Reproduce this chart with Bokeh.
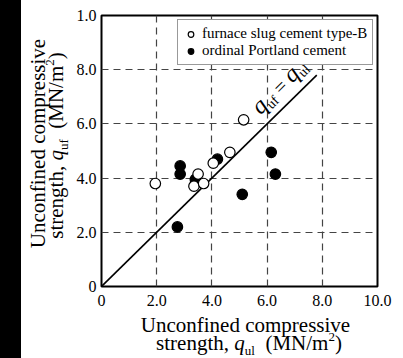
import math
from bokeh.plotting import figure
from bokeh.models import (Range1d, FixedTicker, Label, Legend, LegendItem, Div)
from bokeh.layouts import row, column
from bokeh.embed import file_html
from bokeh.resources import INLINE

# ---------------- data ----------------
slag_x = [1.95, 3.35, 3.5, 3.7, 4.05, 4.65, 5.15]
slag_y = [3.8, 3.7, 4.15, 3.8, 4.55, 4.95, 6.15]
opc_x = [2.85, 2.85, 2.75, 3.4, 4.2, 6.15, 6.3, 5.1]
opc_y = [4.45, 4.15, 2.2, 3.95, 4.7, 4.95, 4.15, 3.4]
line_x = [0.0, 7.8]
line_y = [0.0, 7.8]

x_ticks = [0, 2, 4, 6, 8, 10]
x_tick_labels = ["0", "2.0", "4.0", "6.0", "8.0", "10.0"]
y_ticks = [0, 2, 4, 6, 8, 10]
y_tick_labels = ["0", "2.0", "4.0", "6.0", "8.0", "1.0"]

slag_name = "furnace slug cement type-B"
opc_name = "ordinal Portland cement"
title_line1 = "Unconfined compressive"

FONT = "Liberation Serif"

# Times-metric character widths (per 1000 em)
WR = {' ': 250, '(': 333, ')': 333, ',': 250, '/': 278, '=': 564, '2': 500,
      'M': 889, 'N': 722, 'e': 444, 'f': 333, 'g': 500, 'h': 500, 'l': 278,
      'm': 778, 'n': 500, 'r': 333, 's': 389, 't': 278, 'u': 500, 'q': 500}
BASE_SHIFT = 0.333   # observed baseline offset of Label text (fraction of size)


def tw(s, size):
    return sum(WR.get(c, 500) for c in s) / 1000.0 * size


def rich(fig, x0, y0, pieces, angle_deg, sx=1.0, sy=1.0, align="center"):
    """Lay text pieces (text, size, italic, drop_px) along a rotated baseline."""
    th = math.radians(angle_deg)
    c, s_ = math.cos(th), math.sin(th)
    total = sum(tw(t, sz) for t, sz, it, dr in pieces)
    d = -total / 2.0 if align == "center" else 0.0
    for t, sz, it, dr in pieces:
        lead = len(t) - len(t.lstrip(" "))
        d += tw(" " * lead, sz)
        t2 = t.strip(" ")
        drop = dr - BASE_SHIFT * sz
        dx = d * c + drop * s_
        dy = -d * s_ + drop * c
        fig.add_layout(Label(x=x0 + dx / sx, y=y0 + dy / sy, text=t2,
                             angle=th, angle_units="rad",
                             text_font=FONT, text_font_size=f"{sz}px",
                             text_font_style="italic" if it else "normal",
                             text_color="black", text_align="left",
                             text_baseline="alphabetic"))
        d += tw(t.lstrip(" "), sz)


# ---------------- main figure ----------------
p = figure(width=333, height=312, output_backend="svg", toolbar_location=None,
           x_range=Range1d(0, 10), y_range=Range1d(0, 10),
           min_border_left=31, min_border_right=26, min_border_top=15,
           min_border_bottom=26)
p.background_fill_color = "white"
p.border_fill_color = "white"
p.outline_line_color = "black"
p.outline_line_width = 2

for ax, ticks, labels in ((p.xaxis, x_ticks, x_tick_labels), (p.yaxis, y_ticks, y_tick_labels)):
    ax.ticker = FixedTicker(ticks=ticks)
    ax.major_label_overrides = {t: l for t, l in zip(ticks, labels)}
    ax.axis_line_color = None
    ax.major_tick_line_color = None
    ax.minor_tick_line_color = None
    ax.major_tick_out = 0
    ax.major_tick_in = 0
    ax.major_label_text_font = FONT
    ax.major_label_text_font_size = "16px"
    ax.major_label_text_color = "black"
p.xaxis.major_label_standoff = 8
p.yaxis.major_label_standoff = 5

p.xgrid.ticker = FixedTicker(ticks=[2, 4, 6, 8])
p.ygrid.ticker = FixedTicker(ticks=[2, 4, 6, 8])
for g in (p.xgrid, p.ygrid):
    g.grid_line_color = "#444444"
    g.grid_line_width = 1.2
    g.grid_line_dash = "7 5"

p.line(line_x, line_y, line_color="black", line_width=1.6)
r_opc = p.scatter(opc_x, opc_y, size=10.5, marker="circle", fill_color="black",
                  line_color="black", line_width=1.2)
r_slag = p.scatter(slag_x, slag_y, size=10.5, marker="circle", fill_color="white",
                   line_color="black", line_width=1.2)

legend = Legend(items=[LegendItem(label=slag_name, renderers=[r_slag]),
                       LegendItem(label=opc_name, renderers=[r_opc])],
                location=(76, 221))
legend.label_text_font = FONT
legend.label_text_font_size = "15px"
legend.label_text_color = "black"
legend.glyph_width = 15
legend.glyph_height = 14
legend.label_height = 14
legend.label_standoff = 4
legend.spacing = 0
legend.padding = 5
legend.margin = 0
legend.border_line_color = "#333333"
legend.border_line_width = 1.5
legend.background_fill_alpha = 1.0
p.add_layout(legend, "center")

# diagonal annotation  q_uf = q_ul  (px per unit: 27.6 in x, 27.1 in y)
rich(p, 5.76, 6.31, [("q", 24, True, 0), ("uf", 14, False, 4), (" = ", 20, False, 0),
                     ("q", 24, True, 0), ("ul", 14, False, 4)], 45,
     sx=27.6, sy=-27.1, align="left")


def aux(w, h, x0, x1):
    f = figure(width=w, height=h, output_backend="svg", toolbar_location=None,
               x_range=Range1d(x0, x1), y_range=Range1d(h, 0),
               x_axis_type=None, y_axis_type=None, title=None,
               min_border=0, min_border_left=0, min_border_right=0,
               min_border_top=0, min_border_bottom=0)
    f.outline_line_color = None
    f.background_fill_color = "white"
    f.border_fill_color = "white"
    f.xgrid.visible = False
    f.ygrid.visible = False
    return f


# y-axis title panel: screen x 21..70 -> local 0..49
ytf = aux(49, 358, 0, 49)
rich(ytf, 23, 139.5, [(title_line1, 21, False, 0)], 90)
rich(ytf, 41, 145, [("strength, ", 21, False, 0), ("q", 21, True, 0),
                    ("uf", 13, False, 5), ("  (MN/m", 21, False, 0),
                    ("2", 13, False, -8), (")", 21, False, 0)], 90)

# x-axis title panel: frame aligned with main frame (local 31..307)
xtf = aux(333, 46, 31, 307)
xtf.min_border_left = 31
xtf.min_border_right = 26
rich(xtf, 178.5, 19, [(title_line1, 21, False, 0)], 0)
rich(xtf, 178.5, 37, [("strength, ", 21, False, 0), ("q", 21, True, 0),
                      ("ul", 13, False, 5), ("  (MN/m", 21, False, 0),
                      ("2", 13, False, -8), (")", 21, False, 0)], 0)

bar = Div(width=21, height=358, styles={"background-color": "black"}, margin=0)
layout = row(bar, ytf, column(p, xtf, spacing=0), spacing=0)

open("out.html", "w").write(file_html(layout, INLINE))
